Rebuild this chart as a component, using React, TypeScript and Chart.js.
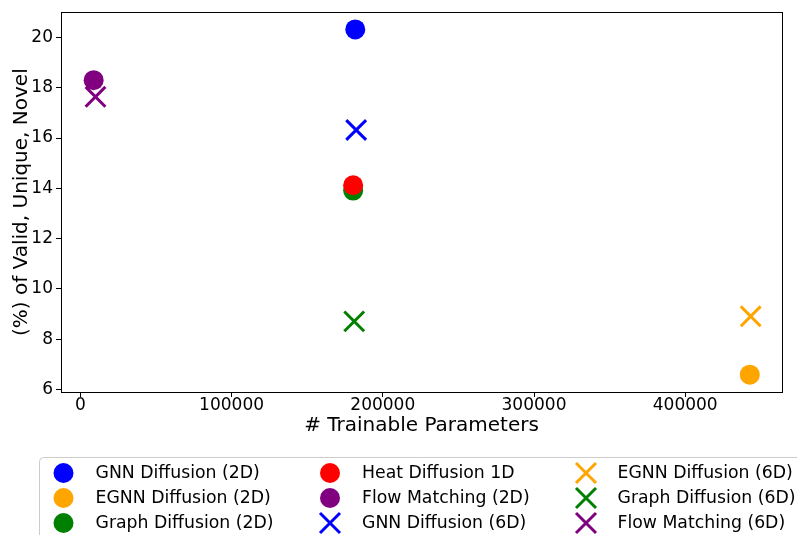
import React, { useEffect, useRef } from "react";
import { Chart, registerables } from "chart.js";

Chart.register(...registerables);

const seriesLabels = [
  "GNN Diffusion (2D)",
  "EGNN Diffusion (2D)",
  "Graph Diffusion (2D)",
  "Heat Diffusion 1D",
  "Flow Matching (2D)",
  "GNN Diffusion (6D)",
  "EGNN Diffusion (6D)",
  "Graph Diffusion (6D)",
  "Flow Matching (6D)",
];
const seriesColors = [
  "#0000ff",
  "#ffa500",
  "#008000",
  "#ff0000",
  "#800080",
  "#0000ff",
  "#ffa500",
  "#008000",
  "#800080",
];
const seriesMarkers = ["circle", "circle", "circle", "circle", "circle", "cross", "cross", "cross", "cross"];
const paramCounts = [181800, 442700, 180400, 180400, 8800, 182400, 443300, 181100, 10000];
const vunScores = [20.32, 6.59, 13.91, 14.12, 18.3, 16.32, 8.91, 8.71, 17.64];

const xTicks = [0, 100000, 200000, 300000, 400000];
const yTicks = [6, 8, 10, 12, 14, 16, 18, 20];
const xRange = [-12800, 464000];
const yRange = [5.9, 21.0];

const FONT = "'DejaVu Sans', sans-serif";

const framePlugin = {
  id: "frame",
  afterDraw(chart: any) {
    const { ctx, chartArea } = chart;
    ctx.save();
    ctx.strokeStyle = "#000";
    ctx.lineWidth = 1;
    const l = Math.floor(chartArea.left) + 0.5;
    const t = Math.floor(chartArea.top) + 0.5;
    const r = Math.floor(chartArea.right) + 0.5;
    const b = Math.floor(chartArea.bottom) + 0.5;
    ctx.strokeRect(l, t, r - l, b - t);
    ctx.restore();
  },
};

function drawMarker(ctx: CanvasRenderingContext2D, kind: string, color: string, x: number, y: number) {
  if (kind === "circle") {
    ctx.fillStyle = color;
    ctx.beginPath();
    ctx.arc(x, y, 10, 0, Math.PI * 2);
    ctx.fill();
  } else {
    ctx.strokeStyle = color;
    ctx.lineWidth = 3;
    const h = 10;
    ctx.beginPath();
    ctx.moveTo(x - h, y - h);
    ctx.lineTo(x + h, y + h);
    ctx.moveTo(x - h, y + h);
    ctx.lineTo(x + h, y - h);
    ctx.stroke();
  }
}

const legendPlugin = {
  id: "customLegend",
  afterDraw(chart: any) {
    const ctx: CanvasRenderingContext2D = chart.ctx;
    ctx.save();
    const bx = 39.5, by = 457.5, bw = 775, bh = 100, r = 4;
    ctx.beginPath();
    ctx.moveTo(bx + r, by);
    ctx.lineTo(bx + bw - r, by);
    ctx.quadraticCurveTo(bx + bw, by, bx + bw, by + r);
    ctx.lineTo(bx + bw, by + bh);
    ctx.lineTo(bx, by + bh);
    ctx.lineTo(bx, by + r);
    ctx.quadraticCurveTo(bx, by, bx + r, by);
    ctx.closePath();
    ctx.fillStyle = "rgba(255,255,255,0.8)";
    ctx.fill();
    ctx.strokeStyle = "#cccccc";
    ctx.lineWidth = 1;
    ctx.stroke();

    const markerX = [63.5, 330, 586];
    const textX = [95.5, 362, 617.5];
    const rowY = [473, 498, 523];
    ctx.font = `17.3px ${FONT}`;
    ctx.textBaseline = "middle";
    ctx.textAlign = "left";
    seriesLabels.forEach((label, i) => {
      const col = Math.floor(i / 3);
      const row = i % 3;
      drawMarker(ctx, seriesMarkers[i], seriesColors[i], markerX[col], rowY[row]);
      ctx.fillStyle = "#000";
      ctx.fillText(label, textX[col], rowY[row] + 1);
    });
    ctx.restore();
  },
};

export default function App() {
  const ref = useRef<HTMLCanvasElement | null>(null);

  useEffect(() => {
    document.body.style.margin = "0";
    const canvas = ref.current;
    if (!canvas) return;
    const n = seriesLabels.length;
    const datasets = seriesLabels.map((label, i) => {
      const isCircle = seriesMarkers[i] === "circle";
      return {
        label,
        data: [{ x: paramCounts[i], y: vunScores[i] }],
        order: n - i,
        pointStyle: isCircle ? "circle" : "crossRot",
        pointRadius: isCircle ? 10 : 14,
        backgroundColor: seriesColors[i],
        borderColor: seriesColors[i],
        borderWidth: isCircle ? 0 : 3,
        showLine: false,
      };
    });

    const chart = new Chart(canvas, {
      type: "scatter",
      data: { datasets: datasets as any },
      options: {
        animation: false,
        responsive: false,
        events: [],
        layout: { autoPadding: false, padding: { left: 0, right: 15, top: 12.3, bottom: 98 } },
        plugins: {
          legend: { display: false },
          tooltip: { enabled: false },
        },
        scales: {
          x: {
            type: "linear",
            min: xRange[0],
            max: xRange[1],
            afterFit: (s: any) => {
              s.height = 45;
              s.paddingLeft = 0;
              s.paddingRight = 0;
            },
            afterBuildTicks: (s: any) => {
              s.ticks = xTicks.map((v) => ({ value: v }));
            },
            ticks: {
              callback: (v: any) => String(v),
              font: { family: FONT, size: 17 },
              color: "#000",
              padding: -2,
              maxRotation: 0,
              autoSkip: false,
            },
            grid: {
              drawOnChartArea: false,
              drawTicks: true,
              tickLength: 5,
              color: "#000",
            },
            border: { color: "#000" },
            title: {
              display: true,
              text: "# Trainable Parameters",
              font: { family: FONT, size: 20 },
              color: "#000",
              padding: { top: 0, bottom: -1 },
            },
          },
          y: {
            type: "linear",
            min: yRange[0],
            max: yRange[1],
            afterFit: (s: any) => {
              s.width = 61;
              s.paddingTop = 0;
              s.paddingBottom = 0;
            },
            afterBuildTicks: (s: any) => {
              s.ticks = yTicks.map((v) => ({ value: v }));
            },
            ticks: {
              callback: (v: any) => String(v),
              font: { family: FONT, size: 17 },
              color: "#000",
              padding: 3,
              autoSkip: false,
            },
            grid: {
              drawOnChartArea: false,
              drawTicks: true,
              tickLength: 5,
              color: "#000",
            },
            border: { color: "#000" },
            title: {
              display: true,
              text: "(%) of Valid, Unique, Novel",
              font: { family: FONT, size: 20 },
              color: "#000",
              padding: { top: 10, bottom: 0 },
            },
          },
        },
      },
      plugins: [framePlugin, legendPlugin],
    });
    return () => chart.destroy();
  }, []);

  return (
    <div style={{ width: 797, height: 535 }}>
      <canvas ref={ref} width={797} height={535} style={{ display: "block", width: 797, height: 535 }} />
    </div>
  );
}
